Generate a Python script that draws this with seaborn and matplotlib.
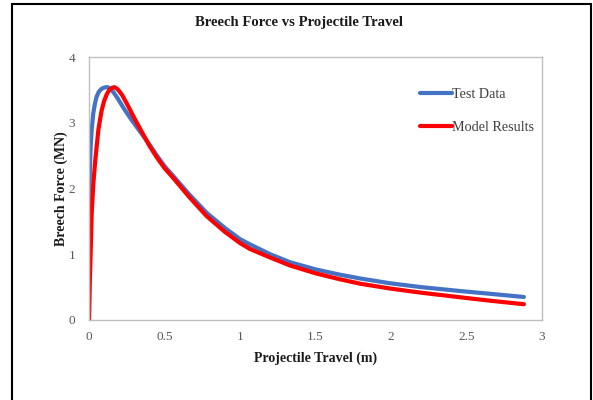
import matplotlib
matplotlib.use("Agg")
import matplotlib.pyplot as plt
from matplotlib.patches import Rectangle
import seaborn as sns
import pandas as pd

# Measured breech force against projectile travel
test_travel = [0.0, 0.001, 0.003, 0.006, 0.011, 0.018, 0.028, 0.04, 0.051, 0.065,
               0.08, 0.095, 0.11, 0.125, 0.14, 0.16, 0.19, 0.23, 0.28, 0.34,
               0.4, 0.45, 0.5, 0.558, 0.66, 0.779, 0.9, 1.0, 1.066, 1.2,
               1.33, 1.5, 1.66, 1.8, 1.99, 2.2, 2.46, 2.65, 2.88]
test_force = [0.0, 1.0, 1.9, 2.3, 2.64, 2.9, 3.14, 3.3, 3.40, 3.47,
              3.51, 3.53, 3.54, 3.54, 3.52, 3.47, 3.37, 3.22, 3.05, 2.86,
              2.67, 2.50, 2.34, 2.19, 1.92, 1.63, 1.40, 1.23, 1.15, 1.00,
              0.88, 0.77, 0.69, 0.63, 0.56, 0.50, 0.44, 0.40, 0.35]

# Simulated breech force against projectile travel
model_travel = [0.0, 0.005, 0.01, 0.018, 0.028, 0.04, 0.05, 0.062, 0.074, 0.084,
                0.1, 0.117, 0.135, 0.155, 0.17, 0.19, 0.22, 0.26, 0.3, 0.35,
                0.4, 0.45, 0.5, 0.558, 0.66, 0.779, 0.9, 1.0, 1.066, 1.2,
                1.33, 1.5, 1.66, 1.8, 1.99, 2.2, 2.46, 2.65, 2.88]
model_force = [0.0, 0.55, 0.95, 1.63, 2.05, 2.39, 2.62, 2.89, 3.06, 3.19,
               3.33, 3.43, 3.50, 3.535, 3.54, 3.51, 3.42, 3.25, 3.07, 2.86,
               2.65, 2.47, 2.31, 2.16, 1.88, 1.58, 1.34, 1.17, 1.08, 0.95,
               0.83, 0.71, 0.62, 0.55, 0.48, 0.415, 0.345, 0.295, 0.24]

series_names = ["Test Data", "Model Results"]
series_colors = ["#4472C4", "#FF0000"]

x_ticks = [0, 0.5, 1, 1.5, 2, 2.5, 3]
x_tick_labels = ["0", "0.5", "1", "1.5", "2", "2.5", "3"]
y_ticks = [0, 1, 2, 3, 4]
y_tick_labels = ["0", "1", "2", "3", "4"]

df = pd.concat([
    pd.DataFrame({"travel": test_travel, "force": test_force, "series": series_names[0]}),
    pd.DataFrame({"travel": model_travel, "force": model_force, "series": series_names[1]}),
], ignore_index=True)

sns.set_theme(style="white")
plt.rcParams["font.family"] = ["Liberation Serif", "DejaVu Serif"]

fig = plt.figure(figsize=(5.93, 4.0), dpi=100)
ax = fig.add_axes([89 / 593, 80 / 400, (542 - 89) / 593, (320 - 57) / 400])

sns.lineplot(data=df, x="travel", y="force", hue="series", hue_order=series_names,
             palette=dict(zip(series_names, series_colors)), sort=False,
             estimator=None, linewidth=3.0, ax=ax, legend=True)

ax.set_xlim(0, 3)
ax.set_ylim(0, 4)
ax.set_xticks(x_ticks)
ax.set_xticklabels(x_tick_labels)
ax.set_yticks(y_ticks)
ax.set_yticklabels(y_tick_labels)
ax.tick_params(axis="both", length=0, labelsize=9.5, labelcolor="#595959")
ax.tick_params(axis="x", pad=8)
ax.tick_params(axis="y", pad=10)

for side in ["left", "right", "top", "bottom"]:
    ax.spines[side].set_color("#BFBFBF")
    ax.spines[side].set_linewidth(1.0)

ax.set_xlabel("Projectile Travel (m)", fontsize=10, fontweight="bold", color="#1a1a1a", labelpad=6)
ax.set_ylabel("Breech Force (MN)", fontsize=10, fontweight="bold", color="#1a1a1a", labelpad=0)

fig.text(0.505, 0.943, "Breech Force vs Projectile Travel", ha="center", va="center",
         fontsize=10.6, fontweight="bold", color="#1a1a1a")

leg = ax.legend(loc="upper left", bbox_to_anchor=(0.719, 0.905), frameon=False,
                fontsize=10.2, handlelength=2.25, handletextpad=0.0,
                labelspacing=1.45, borderaxespad=0)
for t in leg.get_texts():
    t.set_color("#404040")
for h in leg.get_lines():
    h.set_linewidth(3.0)

# Outer frame of the chart area (runs past the bottom edge)
fig.patches.append(Rectangle((11.5 / 593, -0.1), (590.5 - 11.5) / 593, 1.1 - 4.5 / 400,
                             transform=fig.transFigure, fill=False,
                             edgecolor="black", linewidth=1.5))

fig.savefig("out.png", dpi=100)
